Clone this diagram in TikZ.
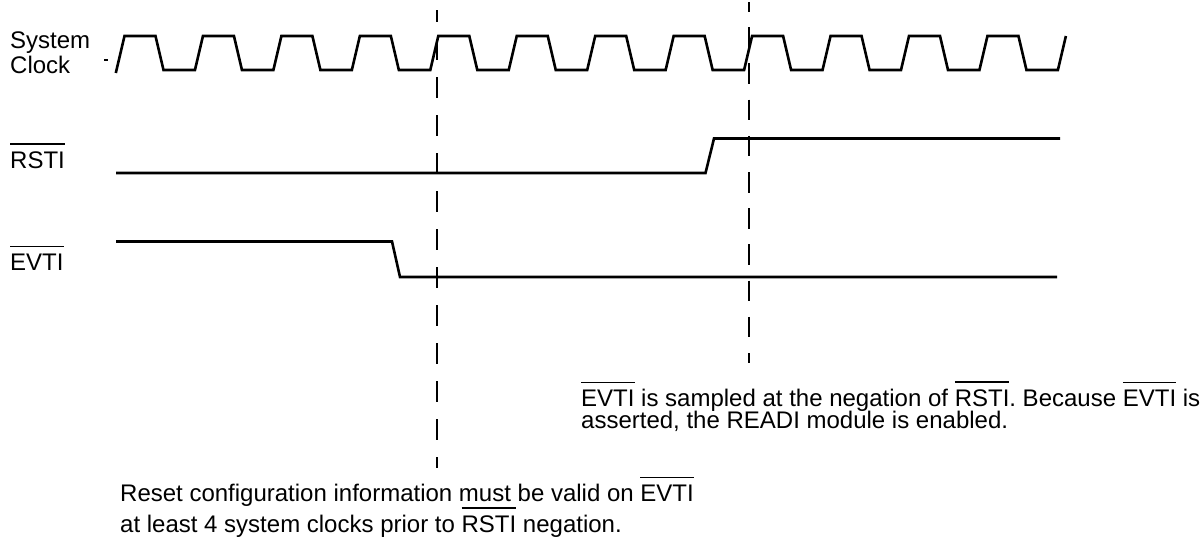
\documentclass[tikz,border=0pt]{standalone}
\usepackage{fontspec}
\setmainfont{Liberation Sans}
\usepackage{tikz}
\usetikzlibrary{calc}
\frenchspacing

% segnale negato (barra sopra)
\newcommand{\negsig}[1]{\setbox0=\hbox{#1}\rlap{\rule[\dimexpr\ht0+6pt\relax]{\wd0}{1.9pt}}\box0\relax}

\tikzset{
  sig/.style={line width=2.6pt, line join=miter},
  tick/.style={line width=1.9pt},
  lbl/.style={anchor=base west, inner sep=0pt, font=\fontsize{24}{26}\selectfont},
}

\begin{document}
\begin{tikzpicture}[x=1pt, y=-1pt]
\useasboundingbox (0,0) rectangle (1202,538);
% Etichette
\node[lbl] (sys) at (10,48) {System};
\node[lbl] (clk) at (10,73) {Clock};
\node[lbl] (rstilbl) at (10,168) {\negsig{RSTI}};
\node[lbl] (evtilbl) at (10,270) {\negsig{EVTI}};
% Clock
\draw[tick] (104,60) -- (107.5,60);
\draw[sig] (115.8,73) -- (124.5,36)
  \foreach \k in {1,...,12} { -- ++(31,0) -- ++(8,34) -- ++(31.45,0) -- ++(8,-34) };
% RSTI
\draw[sig] (116,173) -- (705.5,173) -- (714,138.5) -- (1060,138.5);
% EVTI
\draw[sig] (116,241.5) -- (392,241.5) -- (400,277) -- (1057,277);
% Linee tratteggiate
\coordinate (t1a) at (437,10);
\coordinate (t1b) at (437,468);
\coordinate (t2a) at (749,2);
\coordinate (t2b) at (749,363);
\draw[tick, dash pattern=on 21pt off 17pt, dash phase=9pt] (t1a) -- (t1b);
\draw[tick, dash pattern=on 20.5pt off 15.7pt, dash phase=11pt] (t2a) -- (t2b);
% Note
\node[lbl] (note1a) at (581,406) {\negsig{EVTI} is sampled at the negation of \negsig{RSTI}. Because \negsig{EVTI} is};
\node[lbl] (note1b) at (581,428) {asserted, the READI module is enabled.};
\node[lbl] (note2a) at (120,501) {Reset configuration information must be valid on \negsig{EVTI}};
\node[lbl] (note2b) at (120,532) {at least 4 system clocks prior to \negsig{RSTI} negation.};
\end{tikzpicture}
\end{document}
